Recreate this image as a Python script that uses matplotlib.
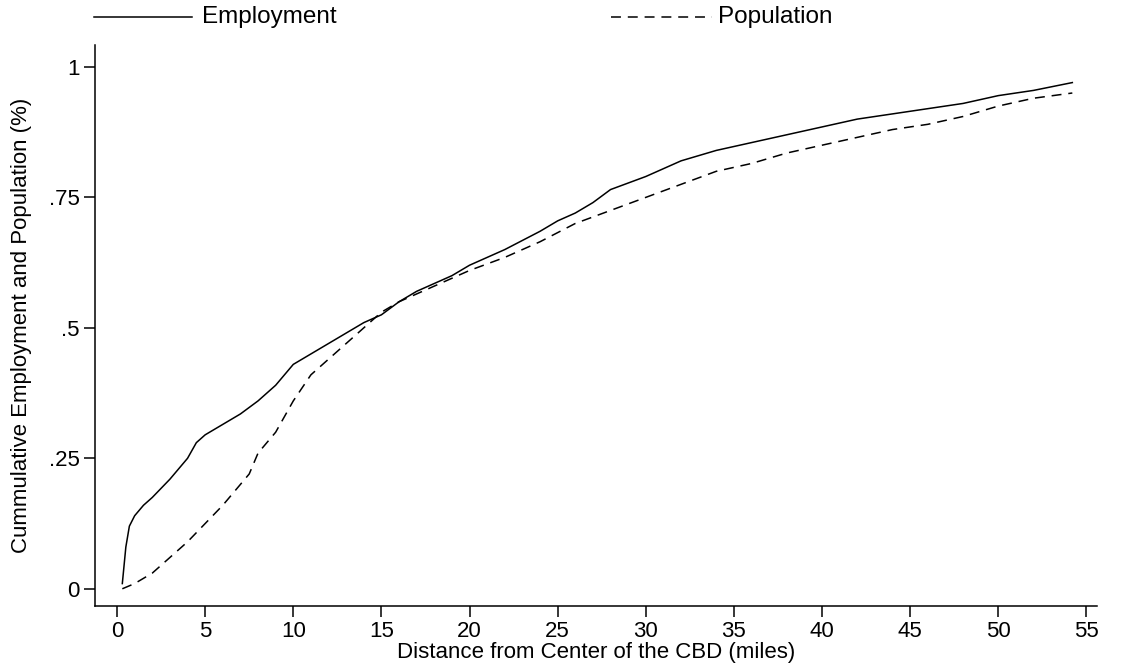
import matplotlib
matplotlib.use("Agg")
import matplotlib.pyplot as plt
from matplotlib.lines import Line2D

plt.rcParams['font.family'] = ['Liberation Sans', 'DejaVu Sans']

# Employment curve
emp_x = [0.3, 0.5, 0.7, 1, 1.5, 2, 3, 4, 4.5, 5, 6, 7, 8, 9, 10, 11, 12, 13, 14, 15, 16, 17, 18, 19, 20,
         22, 24, 25, 26, 27, 28, 30, 32, 34, 36, 38, 40, 42, 44, 46, 48, 50, 52, 54.2]
emp_y = [0.01, 0.08, 0.12, 0.14, 0.16, 0.175, 0.21, 0.25, 0.28, 0.295, 0.315, 0.335, 0.36, 0.39, 0.43,
         0.45, 0.47, 0.49, 0.51, 0.525, 0.55, 0.57, 0.585, 0.6, 0.62, 0.65, 0.685, 0.705, 0.72, 0.74,
         0.765, 0.79, 0.82, 0.84, 0.855, 0.87, 0.885, 0.9, 0.91, 0.92, 0.93, 0.945, 0.955, 0.97]
# Population curve
pop_x = [0.3, 1, 2, 3, 4, 5, 6, 7, 7.5, 8, 9, 10, 11, 12, 13, 14, 15, 16, 18, 20, 22, 24, 26, 28, 30,
         32, 34, 36, 38, 40, 42, 44, 46, 48, 50, 52, 54.2]
pop_y = [0.0, 0.01, 0.03, 0.06, 0.09, 0.125, 0.16, 0.2, 0.22, 0.26, 0.3, 0.36, 0.41, 0.44, 0.47, 0.5,
         0.53, 0.55, 0.58, 0.61, 0.635, 0.665, 0.7, 0.725, 0.75, 0.775, 0.8, 0.815, 0.835, 0.85, 0.865,
         0.88, 0.89, 0.905, 0.925, 0.94, 0.95]

xticks = list(range(0, 56, 5))
yticks = [0, 0.25, 0.5, 0.75, 1]
ylabels = ["0", ".25", ".5", ".75", "1"]

W, H = 1121, 669
dash = (0, (6.5, 4.5))

fig = plt.figure(figsize=(W / 100, H / 100), dpi=100)
ax = fig.add_axes([95 / W, 1 - 606 / H, 1002 / W, 561 / H])
ax.plot(emp_x, emp_y, color='black', lw=1.1)
ax.plot(pop_x, pop_y, color='black', lw=1.1, ls=dash)
ax.set_xlim(-1.25, 55.6)
ax.set_ylim(-0.033, 1.042)
ax.set_xticks(xticks)
ax.set_yticks(yticks)
ax.set_yticklabels(ylabels)
for s in ['top', 'right']:
    ax.spines[s].set_visible(False)
for s in ['left', 'bottom']:
    ax.spines[s].set_linewidth(1.1)
ax.tick_params(direction='out', length=8, width=1.1, labelsize=16, pad=3)
ax.set_xlabel("Distance from Center of the CBD (miles)", fontsize=16, labelpad=0)
ax.set_ylabel("Cummulative Employment and Population (%)", fontsize=16, labelpad=12)

# legend drawn by hand above the plot
ly = 1 - 17 / H
fig.add_artist(Line2D([94 / W, 192 / W], [ly, ly], color='black', lw=1.1))
fig.text(202 / W, ly, "Employment", fontsize=17.5, va='center')
fig.add_artist(Line2D([611 / W, 712 / W], [ly, ly], color='black', lw=1.1, ls=dash))
fig.text(718 / W, ly, "Population", fontsize=17.5, va='center')

fig.savefig("out.png", dpi=100)
